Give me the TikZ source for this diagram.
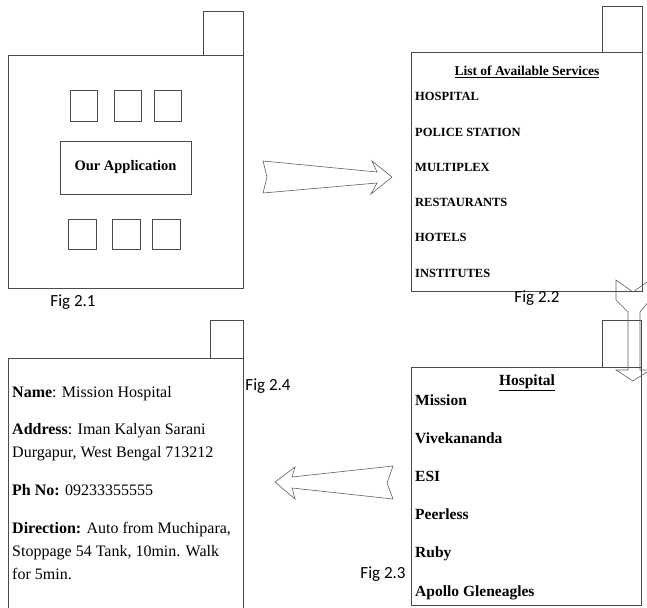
\documentclass[tikz,border=0pt]{standalone}
\usepackage{fontspec}
\setmainfont{Liberation Serif}
\newfontfamily\figfont{Carlito}
\usetikzlibrary{positioning}

\definecolor{linegray}{RGB}{75,75,75}
\definecolor{arrowgray}{RGB}{95,95,95}

\tikzset{
  frame/.style={draw=linegray, line width=0.8pt},
  blockarrow/.style={draw=arrowgray, line width=0.6pt, line join=miter},
  figlabel/.style={font=\figfont\fontsize{17}{20}\selectfont, inner sep=0pt, anchor=base},
  svcitem/.style={font=\bfseries\fontsize{12.5}{15}\selectfont, inner sep=0pt, anchor=base west},
  hospitem/.style={font=\bfseries\fontsize{15.5}{18}\selectfont, inner sep=0pt, anchor=base west},
  infoline/.style={font=\fontsize{16}{19}\selectfont, inner sep=0pt, anchor=base west}
}

\begin{document}
\begin{tikzpicture}[x=1pt,y=-1pt]
\useasboundingbox (0,0) rectangle (647,607);

% Fig 2.1 : home screen
\draw[frame] (8,55) rectangle (243,288);
\draw[frame] (203,11) rectangle (243,55);
\foreach \x in {70,114,154} {
    \draw[frame] (\x,90) rectangle ++(27,31);
}
\foreach \x in {68,112,152} {
    \draw[frame] (\x,219) rectangle ++(28,30);
}
\node[frame, minimum width=131pt, minimum height=53pt, inner sep=0pt,
      font=\bfseries\fontsize{14.5}{17}\selectfont] (app) at (125.5,167.5) {Our Application};
\node[figlabel] (fig1) at (73,306) {Fig 2.1};

% Fig 2.2 : list of services
\draw[frame] (411,52) rectangle (642,291);
\draw[frame] (602,6) rectangle (642,52);
\node[font=\bfseries\fontsize{13.5}{16}\selectfont, inner sep=0pt, anchor=base] (svctitle) at (527,76) {\underline{List of Available Services}};
\foreach \item [count=\i from 0] in {HOSPITAL, POLICE STATION, MULTIPLEX, RESTAURANTS, HOTELS, INSTITUTES} {
    \node[svcitem] (svc\i) at (415,101+35.2*\i) {\item};
}
\node[figlabel] (fig2) at (537,302) {Fig 2.2};

% Fig 2.3 : hospitals
\draw[frame] (411,367) rectangle (641,605);
\draw[frame] (602,320) rectangle (641,367);
\node[font=\bfseries\fontsize{15.5}{18}\selectfont, inner sep=0pt, anchor=base] (hosptitle) at (527,385) {\underline{Hospital}};
\foreach \item [count=\i from 0] in {Mission, Vivekananda, ESI, Peerless, Ruby, Apollo Gleneagles} {
    \node[hospitem] (hosp\i) at (415,405+38.2*\i) {\item};
}
\node[figlabel] (fig3) at (383,578) {Fig 2.3};

% Fig 2.4 : hospital details
\draw[frame] (8,358) rectangle (243,612);
\draw[frame] (210,320) rectangle (243,358);
\node[infoline] (name) at (12,397) {\textbf{Name}: Mission Hospital};
\node[infoline] (addr) at (12,434) {\textbf{Address}: Iman Kalyan Sarani};
\node[infoline] (addr2) at (12,457) {Durgapur, West Bengal 713212};
\node[infoline] (phone) at (12,495) {\textbf{Ph No:} 09233355555};
\node[infoline] (dir) at (12,533) {\textbf{Direction:} Auto from Muchipara,};
\node[infoline] (dir2) at (12,556) {Stoppage 54 Tank, 10min. Walk};
\node[infoline] (dir3) at (12,579) {for 5min.};
\node[figlabel] (fig4) at (268,390) {Fig 2.4};

% block arrows between the screens
\draw[blockarrow] (263,161) -- (377,172) -- (372,161) -- (392,177) -- (371,194)
    -- (377,183) -- (263,193) -- (267,177) -- cycle;
\draw[blockarrow] (616,280) -- (633,292) -- (650,280) -- (650,300) -- (640,312)
    -- (640,370) -- (650,370) -- (633,381) -- (616,370) -- (628,370) -- (628,312)
    -- (616,300) -- cycle;
\draw[blockarrow] (393,466) -- (292,477) -- (295,467) -- (275,482) -- (295,499)
    -- (292,488) -- (393,499) -- (387,483) -- cycle;
\end{tikzpicture}
\end{document}
